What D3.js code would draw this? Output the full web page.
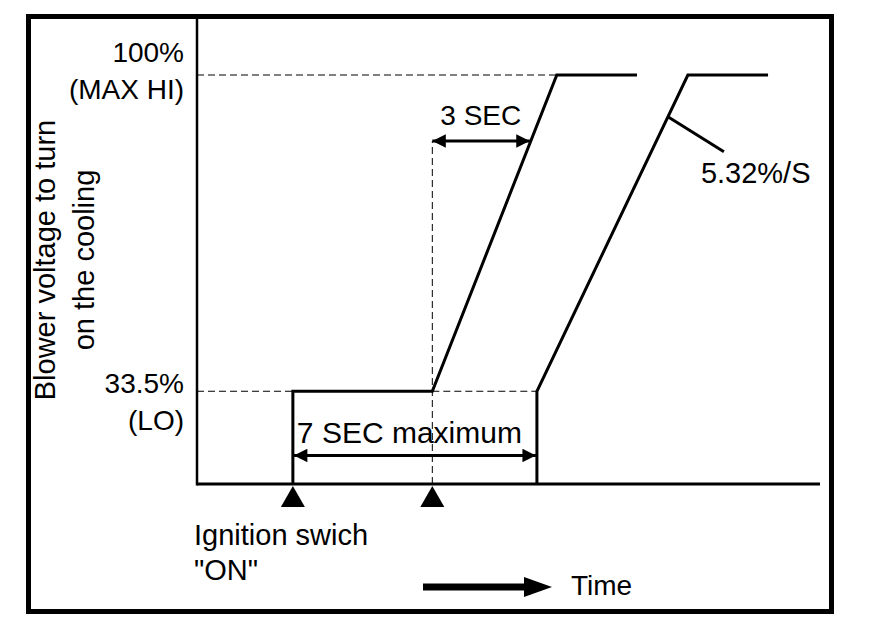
<!doctype html>
<head>
  <script src="https://cdn.jsdelivr.net/npm/d3@7/dist/d3.min.js" charset="utf-8"></script>
</head>

<style type="text/css">
  body { margin: 0; background: #fff; }
  text {
    font-family: 'Liberation Sans', Arial, Helvetica, sans-serif;
    fill: #000;
    font-size: 28px;
  }
</style>

<body>
<svg width="880" height="640"></svg>
<script>
// values (time in seconds, level in % of blower voltage)
var levels = [100, 33.5];
var levelTexts = [["100%", "(MAX HI)"], ["33.5%", "(LO)"]];
var baseLevel = 14;           // where the time axis sits
var markerTimes = [0, 4];     // the two black triangles
var normalCurve = [[0, 14], [0, 33.5], [4, 33.5], [7.57, 100], [9.87, 100]];
var delayedCurve = [[7, 14], [7, 33.5], [11.33, 100], [13.63, 100]];
var secArrow = [4, 86.1];     // start time, level of the "3 SEC" arrow
var maxArrow = [0, 7, 20];    // from, to, level of the "7 SEC maximum" arrow
var slopeText = "5.32%/S";
var yTitle = ["Blower voltage to turn", "on the cooling"];

var svg = d3.select("svg");
var defs = svg.append("defs");

var x = d3.scaleLinear().domain([-2.75, 15.12]).range([197, 820]);
var y = d3.scaleLinear().domain([baseLevel, 100]).range([484, 75]);

var line = d3.line().x(function(d){ return x(d[0]); }).y(function(d){ return y(d[1]); });

// arrow head
defs.append("marker")
  .attr("id", "head")
  .attr("viewBox", "0 0 10 10")
  .attr("refX", 10).attr("refY", 5)
  .attr("markerWidth", 7).attr("markerHeight", 4.5)
  .attr("markerUnits", "strokeWidth")
  .attr("orient", "auto-start-reverse")
  .append("path").attr("d", "M0,0L10,5L0,10Z").attr("fill", "#000");

// outer frame
svg.append("rect")
  .attr("x", 28.5).attr("y", 16.5).attr("width", 803).attr("height", 595)
  .style("fill", "none").style("stroke", "#000").style("stroke-width", 5);

// axes
svg.append("line")
  .attr("x1", x.range()[0]).attr("x2", x.range()[0])
  .attr("y1", 19).attr("y2", y(baseLevel) + 1.5)
  .style("stroke", "#000").style("stroke-width", 2.5);

svg.append("line")
  .attr("x1", x.range()[0]).attr("x2", x.range()[1])
  .attr("y1", y(baseLevel)).attr("y2", y(baseLevel))
  .style("stroke", "#000").style("stroke-width", 3);

// dashed guides
var dash = {stroke: "#000", "stroke-width": 1, "stroke-dasharray": "7,4", fill: "none"};
var guides = [
  [[x.domain()[0], 100], [normalCurve[3][0], 100]],
  [[x.domain()[0], 33.5], [normalCurve[0][0], 33.5]],
  [[normalCurve[2][0], 33.5], [delayedCurve[1][0], 33.5]],
  [[secArrow[0], baseLevel], [secArrow[0], secArrow[1]]]
];
svg.selectAll("path.guide").data(guides).enter().append("path")
  .attr("class", "guide")
  .attr("d", line)
  .each(function(){ var s = d3.select(this); for (var k in dash) s.style(k, dash[k]); });

// the two curves
svg.selectAll("path.curve").data([normalCurve, delayedCurve]).enter().append("path")
  .attr("class", "curve")
  .attr("d", line)
  .style("fill", "none").style("stroke", "#000").style("stroke-width", 3)
  .style("stroke-linejoin", "miter");

// 3 SEC arrow ends on the ramp of the normal curve
var r0 = normalCurve[2], r1 = normalCurve[3];
var tHit = r0[0] + (secArrow[1] - r0[1]) / (r1[1] - r0[1]) * (r1[0] - r0[0]);
svg.append("line")
  .attr("x1", x(secArrow[0])).attr("x2", x(tHit) - 1)
  .attr("y1", y(secArrow[1])).attr("y2", y(secArrow[1]))
  .attr("marker-start", "url(#head)").attr("marker-end", "url(#head)")
  .style("stroke", "#000").style("stroke-width", 3);

svg.append("text").text("3 SEC")
  .attr("x", x(secArrow[0]) + 8).attr("y", y(secArrow[1]) - 16);

// 7 SEC arrow
svg.append("line")
  .attr("x1", x(maxArrow[0]) + 1).attr("x2", x(maxArrow[1]) - 1)
  .attr("y1", y(maxArrow[2])).attr("y2", y(maxArrow[2]))
  .attr("marker-start", "url(#head)").attr("marker-end", "url(#head)")
  .style("stroke", "#000").style("stroke-width", 3);

svg.append("text").text("7 SEC maximum")
  .attr("x", x(maxArrow[0]) + 4).attr("y", y(maxArrow[2]) - 12)
  .style("font-size", "30px");

// slope leader on the delayed ramp
var d0 = delayedCurve[1], d1 = delayedCurve[2];
var lv = 91.2;
var tl = d0[0] + (lv - d0[1]) / (d1[1] - d0[1]) * (d1[0] - d0[0]);
svg.append("line")
  .attr("x1", x(tl)).attr("y1", y(lv))
  .attr("x2", x(tl) + 56).attr("y2", y(lv) + 35)
  .style("stroke", "#000").style("stroke-width", 3);
svg.append("text").text(slopeText)
  .attr("x", x(tl) + 33).attr("y", y(lv) + 66)
  .style("font-size", "29px");

// level labels
var labelOffsets = [[-13, 24], [2, 39]];
levels.forEach(function(v, i){
  levelTexts[i].forEach(function(t, j){
    svg.append("text").text(t)
      .attr("text-anchor", "end")
      .attr("x", 184)
      .attr("y", y(v) + labelOffsets[i][j]);
  });
});

// triangles under the axis
svg.selectAll("path.marker").data(markerTimes).enter().append("path")
  .attr("class", "marker")
  .attr("d", function(d){
    var cx = x(d), top = y(baseLevel) + 2;
    return "M" + [cx, top] + "L" + [cx + 12, top + 21] + "L" + [cx - 12, top + 21] + "Z";
  })
  .style("fill", "#000");

svg.append("text").text("Ignition swich").attr("x", 194).attr("y", 545).style("font-size", "29px");
svg.append("text").text("\"ON\"").attr("x", 194).attr("y", 580).style("font-size", "29px");

// time arrow
svg.append("line")
  .attr("x1", 423).attr("x2", 528).attr("y1", 587).attr("y2", 587)
  .style("stroke", "#000").style("stroke-width", 7);
svg.append("path")
  .attr("d", "M" + [524, 577] + "L" + [552, 587] + "L" + [524, 597] + "Z")
  .style("fill", "#000");
svg.append("text").text("Time").attr("x", 571).attr("y", 595);

// y title, two centred lines
svg.selectAll("g.ytitle").data(yTitle).enter().append("g")
  .attr("class", "ytitle")
  .attr("transform", function(d, i){ return "translate(" + [55 + i * 39, 260] + ") rotate(-90)"; })
  .append("text").text(function(d){ return d; })
  .attr("text-anchor", "middle")
  .style("font-size", "29px");
</script>
</body>
